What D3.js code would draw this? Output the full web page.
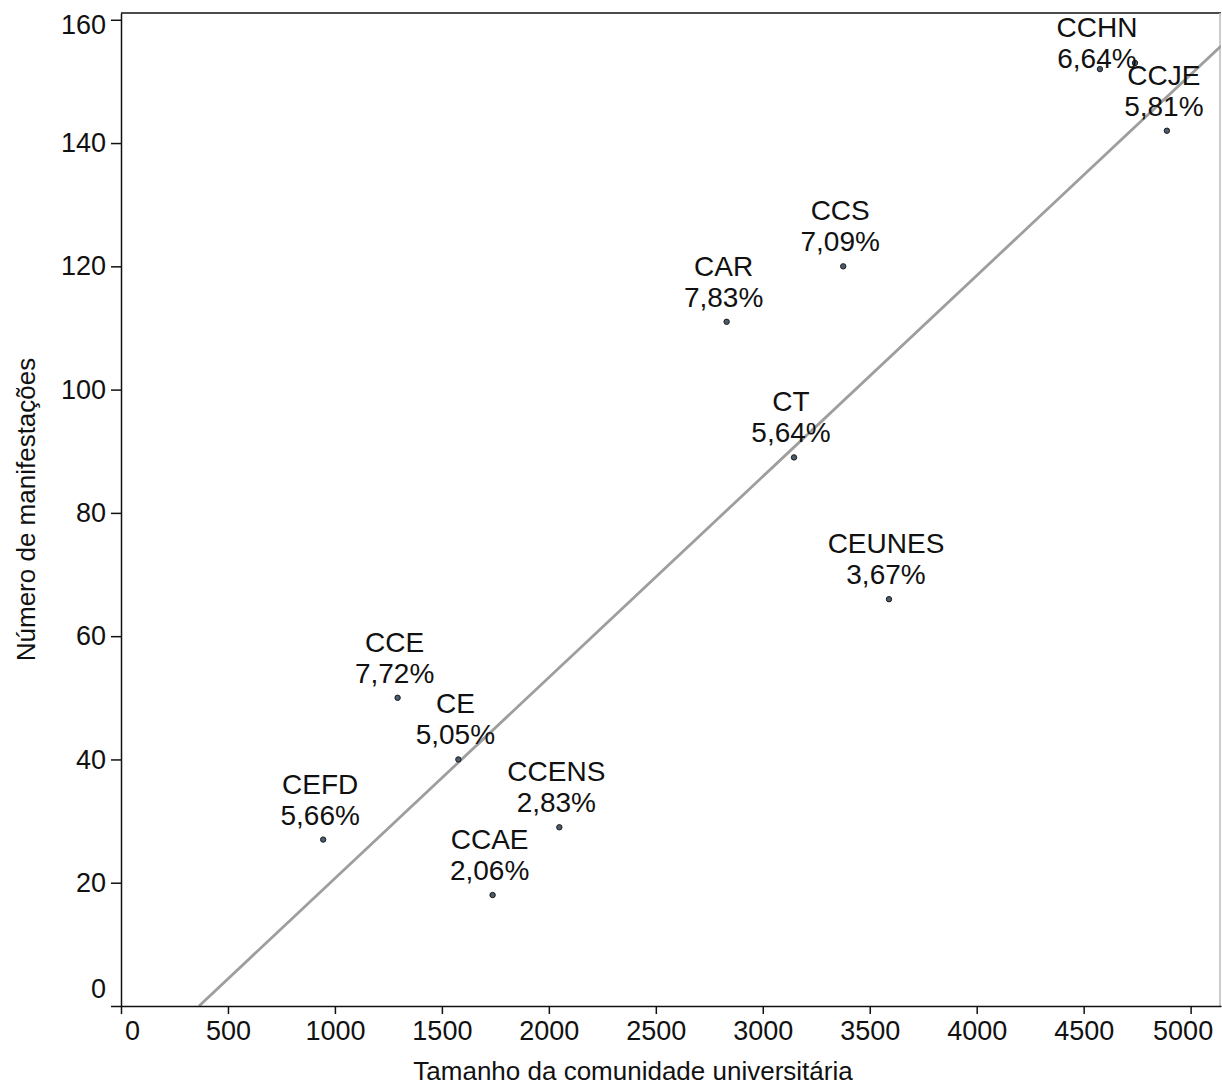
<!DOCTYPE html>
<html>
<head>
<meta charset="utf-8">
<script src="https://cdn.jsdelivr.net/npm/d3@7"></script>
<style>
	body { margin: 0; background: #fff; }
	#chart text { font-family: "Liberation Sans", Arial, sans-serif; fill: #111; }
</style>
</head>
<body>
<div id="chart"></div>
<script>
//////////////////////////// data /////////////////////////////////////////

const centros = ["CEFD", "CCE", "CE", "CCAE", "CCENS", "CAR", "CT", "CCS", "CEUNES", "CCHN", "", "CCJE"];
const comunidade = [945, 1293, 1577, 1737, 2049, 2831, 3146, 3376, 3590, 4576, 4740, 4889];
const manifestacoes = [27, 50, 40, 18, 29, 111, 89, 120, 66, 152, 153, 142];
const percentuais = ["5,66%", "7,72%", "5,05%", "2,06%", "2,83%", "7,83%", "5,64%", "7,09%", "3,67%", "6,64%", "", "5,81%"];

const xTicks = [0, 500, 1000, 1500, 2000, 2500, 3000, 3500, 4000, 4500, 5000];
const yTicks = [0, 20, 40, 60, 80, 100, 120, 140, 160];

// fitted line
const trendIntercept = -11.9;
const trendSlope = 0.0326;

const xTitle = "Tamanho da comunidade universitária";
const yTitle = "Número de manifestações";

//////////////////////////// drawing function /////////////////////////////

const createChart = () => {
	const data = centros.map((c, i) => ({
		centro: c,
		x: comunidade[i],
		y: manifestacoes[i],
		pct: percentuais[i]
	}));

	const xAccessor = (d) => d.x;
	const yAccessor = (d) => d.y;

	let dimensions = {
		width: 1222,
		height: 1088,
		margin: { top: 13, right: 1, bottom: 82, left: 121 }
	};
	dimensions.boundedWidth = dimensions.width - dimensions.margin.left - dimensions.margin.right;
	dimensions.boundedHeight = dimensions.height - dimensions.margin.top - dimensions.margin.bottom;

	const wrapper = d3.select("#chart").append("svg")
		.attr("width", dimensions.width)
		.attr("height", dimensions.height);

	const bounds = wrapper.append("g")
		.attr("transform", `translate(${dimensions.margin.left},${dimensions.margin.top})`);

	//////////////////////////// scales ///////////////////////////////////////

	const xScale = d3.scaleLinear()
		.domain([0, 5142])
		.range([0, dimensions.boundedWidth]);

	const yScale = d3.scaleLinear()
		.domain([0, 161.1])
		.range([dimensions.boundedHeight, 0]);

	//////////////////////////// frame ////////////////////////////////////////

	bounds.append("line")
		.attr("x1", 0).attr("x2", dimensions.boundedWidth)
		.attr("y1", 0).attr("y2", 0)
		.attr("stroke", "#111").attr("stroke-width", 1.5);
	bounds.append("line")
		.attr("x1", dimensions.boundedWidth - 1).attr("x2", dimensions.boundedWidth - 1)
		.attr("y1", 0).attr("y2", dimensions.boundedHeight)
		.attr("stroke", "#bbb").attr("stroke-width", 1.5);

	//////////////////////////// trend line ///////////////////////////////////

	bounds.append("clipPath").attr("id", "clip")
		.append("rect")
		.attr("width", dimensions.boundedWidth)
		.attr("height", dimensions.boundedHeight);

	const x0 = -trendIntercept / trendSlope;
	const x1 = xScale.domain()[1];
	bounds.append("line")
		.attr("clip-path", "url(#clip)")
		.attr("x1", xScale(x0))
		.attr("y1", yScale(trendIntercept + trendSlope * x0))
		.attr("x2", xScale(x1))
		.attr("y2", yScale(trendIntercept + trendSlope * x1))
		.attr("stroke", "#9e9e9e")
		.attr("stroke-width", 2.8);

	//////////////////////////// axes /////////////////////////////////////////

	const xAxisGenerator = d3.axisBottom(xScale)
		.tickValues(xTicks)
		.tickFormat(d3.format("d"))
		.tickSize(8)
		.tickSizeOuter(0)
		.tickPadding(7);

	const xAxis = bounds.append("g")
		.attr("transform", `translate(0,${dimensions.boundedHeight})`)
		.call(xAxisGenerator);

	const yAxisGenerator = d3.axisLeft(yScale)
		.tickValues(yTicks)
		.tickFormat(d3.format("d"))
		.tickSize(10)
		.tickSizeOuter(0)
		.tickPadding(5);

	const yAxis = bounds.append("g").call(yAxisGenerator);

	[xAxis, yAxis].forEach((ax) => {
		ax.selectAll("path, line").attr("stroke", "#111").attr("stroke-width", 1.5);
		ax.selectAll("text").style("font-size", "27px").attr("fill", "#111");
	});

	// end labels nudged inward, as in the original
	xAxis.selectAll(".tick text")
		.attr("dx", (d) => (d === 0 ? 11 : d === 5000 ? -8 : 0));
	yAxis.selectAll(".tick text")
		.attr("dy", (d) => (d === 0 ? "-0.32em" : d === 160 ? "0.52em" : "0.32em"));

	//////////////////////////// titles ///////////////////////////////////////

	wrapper.append("text")
		.attr("x", 633)
		.attr("y", 1080)
		.attr("text-anchor", "middle")
		.style("font-size", "26px")
		.text(xTitle);

	wrapper.append("text")
		.attr("transform", `translate(35,${dimensions.margin.top + dimensions.boundedHeight / 2}) rotate(-90)`)
		.attr("text-anchor", "middle")
		.style("font-size", "26px")
		.text(yTitle);

	//////////////////////////// plot /////////////////////////////////////////

	bounds.selectAll(".dot")
		.data(data)
		.enter()
		.append("circle")
		.attr("class", "dot")
		.attr("cx", (d) => xScale(xAccessor(d)))
		.attr("cy", (d) => yScale(yAccessor(d)))
		.attr("r", 2.7)
		.attr("fill", "#4a5d70")
		.attr("stroke", "#1a1a1a")
		.attr("stroke-width", 1);

	// labels above each dot, kept inside the frame
	const labels = bounds.selectAll(".label")
		.data(data.filter((d) => d.centro !== ""))
		.enter()
		.append("text")
		.attr("class", "label")
		.attr("text-anchor", "middle")
		.style("font-size", "28px")
		.attr("transform", (d) => {
			const base = Math.max(yScale(yAccessor(d)) - 15, 55);
			return `translate(${xScale(xAccessor(d)) - 3},${base})`;
		});

	labels.append("tspan").attr("x", 0).attr("y", -31).text((d) => d.centro);
	labels.append("tspan").attr("x", 0).attr("y", 0).text((d) => d.pct);
};

createChart();
</script>
</body>
</html>
